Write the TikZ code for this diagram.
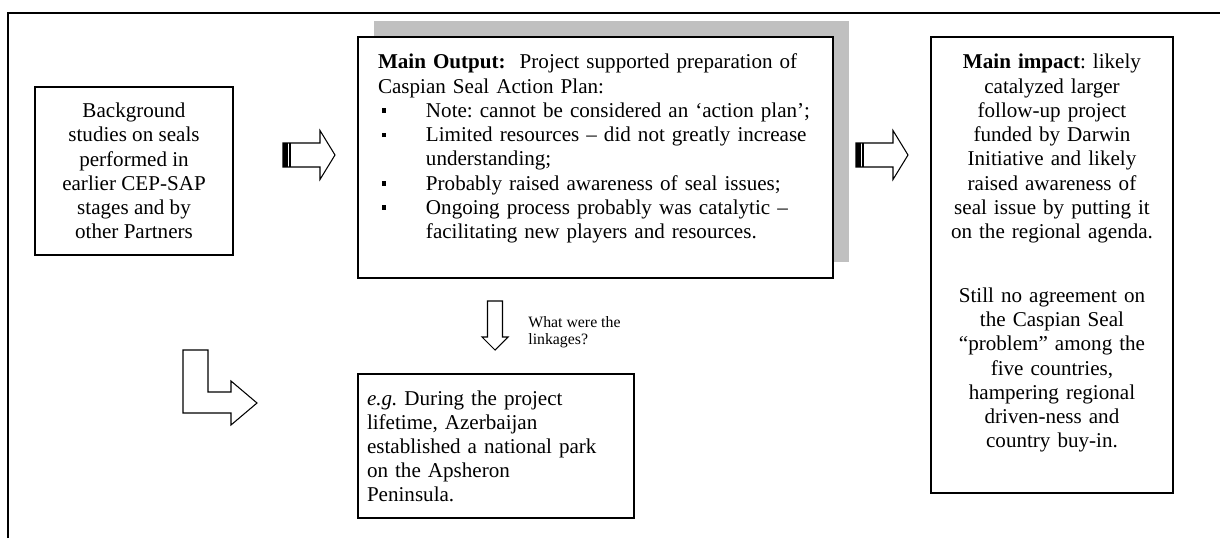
\documentclass[tikz,border=0pt]{standalone}
\usepackage{fontspec}
\setmainfont{Liberation Serif}
\usetikzlibrary{positioning,calc,shadows}
\definecolor{shadowgray}{HTML}{C0C0C0}

\begin{document}
\frenchspacing
\begin{tikzpicture}[
    x=0.02cm, y=-0.02cm,
    box/.style={rectangle, draw, line width=0.9pt, fill=white, inner sep=0pt, outer sep=0pt, font=\fontsize{12pt}{13.8pt}\selectfont},
    topbox/.style={box, anchor=north west},
    blockarrow/.style={draw, line width=0.6pt, fill=white, line join=miter},
    note/.style={font=\fontsize{9pt}{9.4pt}\selectfont, align=left, inner sep=0pt},
    frame/.style={draw, line width=1pt}
]
    \useasboundingbox (0,0) rectangle (1220,538);

    % Outer frame (only top and left sides are visible)
    \draw[frame] (8,538) -- (8,13) -- (1220,13);

    % Background studies
    \node[box, minimum width=39.6mm, minimum height=33.6mm, align=center] (bg) at (134,171)
        {Background\\studies on seals\\performed in\\earlier CEP-SAP\\stages and by\\other Partners};

    % Main output, with grey shadow
    \node[topbox, drop shadow={shadow xshift=3.2mm, shadow yshift=3.2mm, fill=shadowgray, opacity=1},
          inner xsep=4mm, text width=87mm, text height=6.4mm, text depth=41.8mm, align=left] (main) at (358,37)
        {\textbf{Main Output:}\ \ Project supported preparation of\\
         Caspian Seal Action Plan:\\
         \makebox[9.6mm][l]{\hspace{0.7mm}\rule[0.9mm]{0.9mm}{0.9mm}}Note: cannot be considered an ‘action plan’;\\
         \makebox[9.6mm][l]{\hspace{0.7mm}\rule[0.9mm]{0.9mm}{0.9mm}}Limited resources – did not greatly increase\\
         \hspace*{9.6mm}understanding;\\
         \makebox[9.6mm][l]{\hspace{0.7mm}\rule[0.9mm]{0.9mm}{0.9mm}}Probably raised awareness of seal issues;\\
         \makebox[9.6mm][l]{\hspace{0.7mm}\rule[0.9mm]{0.9mm}{0.9mm}}Ongoing process probably was catalytic –\\
         \hspace*{9.6mm}facilitating new players and resources.};

    % Main impact
    \node[topbox, inner xsep=1mm, text width=46.4mm, text height=6.4mm, text depth=84.8mm, align=center] (impact) at (931,37)
        {\textbf{Main impact}: likely\\catalyzed larger\\follow-up project\\funded by Darwin\\Initiative and likely\\raised awareness of\\seal issue by putting it\\on the regional agenda.\\[7.9mm]
         Still no agreement on\\the Caspian Seal\\“problem” among the\\five countries,\\hampering regional\\driven-ness and\\country buy-in.};

    % Example linkage
    \node[topbox, inner xsep=1.8mm, text width=51.6mm, text height=6.2mm, text depth=22.6mm, align=left] (example) at (358,374)
        {\textit{e.g.} During the project\\lifetime, Azerbaijan\\established a national park\\on the Apsheron\\Peninsula.};

    % Question
    \node[note, anchor=base west] (linkq) at (528,344) {What were the\\linkages?};

    % Striped block arrows
    \draw[blockarrow, shift={(283,155)}] (0,-12) -- (37,-12) -- (37,-24.5) -- (52,0) -- (37,24.5) -- (37,12) -- (0,12) -- cycle;
    \fill[shift={(283,155)}] (0,-12) rectangle (5,12);
    \draw[line width=0.6pt, shift={(283,155)}] (7,-12) -- (7,12);

    \draw[blockarrow, shift={(856,155)}] (0,-12) -- (37,-12) -- (37,-24.5) -- (52,0) -- (37,24.5) -- (37,12) -- (0,12) -- cycle;
    \fill[shift={(856,155)}] (0,-12) rectangle (5,12);
    \draw[line width=0.6pt, shift={(856,155)}] (7,-12) -- (7,12);

    % Down arrow
    \draw[blockarrow, shift={(495,301)}] (-7.5,0) -- (7.5,0) -- (7.5,36) -- (13,36) -- (0,49) -- (-13,36) -- (-7.5,36) -- cycle;

    % Bent arrow
    \draw[blockarrow] (183,350) -- (208,350) -- (208,392) -- (231,392) -- (231,381) -- (257,403) -- (231,425) -- (231,413) -- (183,413) -- cycle;

\end{tikzpicture}
\end{document}
